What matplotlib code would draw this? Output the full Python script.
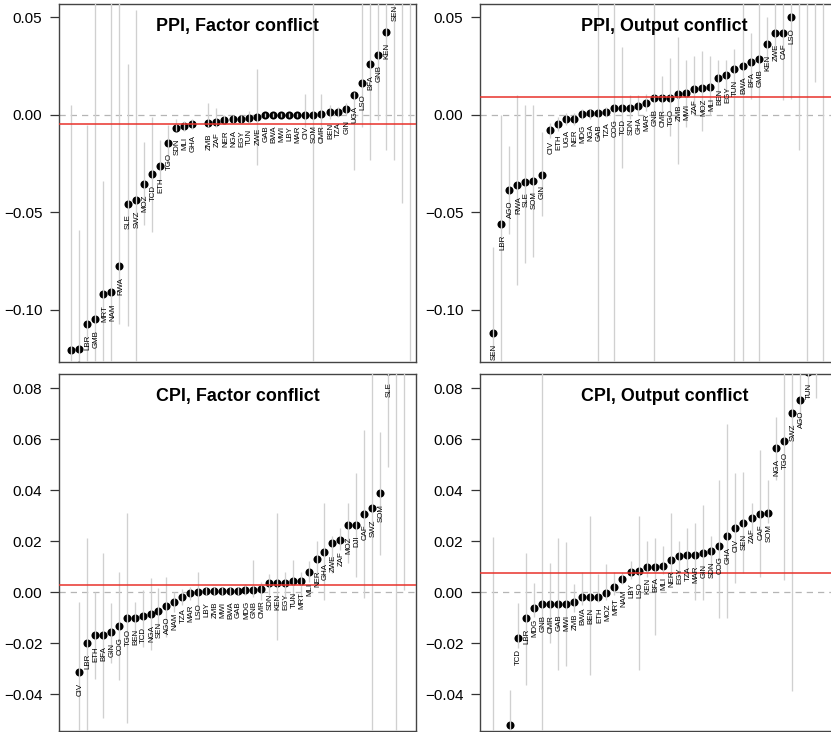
import numpy as np
import matplotlib
matplotlib.use('Agg')
import matplotlib.pyplot as plt
from matplotlib.transforms import offset_copy

plt.rcParams['font.family'] = ['Liberation Sans', 'DejaVu Sans']
nan = np.nan

# ---------------- PPI, Factor conflict ----------------
ppi_f_names = ['AGO', 'COG', 'LBR', 'GMB', 'MRT', 'NAM', 'RWA', 'SLE', 'SWZ', 'MOZ',
               'TCD', 'ETH', 'TGO', 'SDN', 'MLI', 'GHA', 'MDG', 'ZMB', 'ZAF', 'NER',
               'NGA', 'EGY', 'TUN', 'ZWE', 'GAB', 'BWA', 'MWI', 'LBY', 'MAR', 'CIV',
               'SOM', 'CMR', 'BEN', 'TZA', 'GIN', 'UGA', 'LSO', 'BFA', 'GNB', 'KEN',
               'SEN', 'DJI', 'CAF']
ppi_f_val = [-0.1205, -0.1198, -0.1072, -0.1048, -0.0918, -0.0910, -0.0774, -0.0455, -0.0436, -0.0354,
             -0.0303, -0.0263, -0.0142, -0.0067, -0.0058, -0.0048, nan, -0.0039, -0.0034, -0.0024,
             -0.0021, -0.0021, -0.0017, -0.0012, 0.0, 0.0, 0.0, 0.0, 0.0, 0.0002,
             0.0002, 0.0005, 0.0014, 0.0017, 0.0029, 0.0104, 0.0162, 0.0262, 0.0310, 0.0426,
             0.0620, 0.0900, 0.0900]
ppi_f_lo = [-0.20, -0.20, -0.20, -0.20, -0.20, -0.20, -0.107, -0.108, -0.20, -0.0564,
            -0.0598, -0.035, -0.0256, -0.008, -0.008, -0.007, nan, -0.006, -0.006, -0.004,
            -0.004, -0.004, -0.004, -0.0256, -0.001, -0.001, -0.001, -0.001, -0.001, -0.006,
            -0.20, -0.014, -0.002, -0.001, 0.0, -0.028, -0.006, -0.023, -0.0026, -0.018,
            -0.023, -0.045, -0.20]
ppi_f_hi = [0.005, -0.059, -0.005, 0.10, -0.034, 0.10, 0.10, 0.026, 0.054, -0.0137,
            -0.0009, -0.0128, -0.005, -0.002, -0.003, -0.002, nan, 0.006, 0.0036, 0.0,
            0.0, 0.0, 0.002, 0.0236, 0.001, 0.001, 0.001, 0.001, 0.001, 0.011,
            0.10, 0.011, 0.005, 0.004, 0.006, 0.012, 0.10, 0.10, 0.10, 0.10,
            0.15, 0.15, 0.15]
ppi_f_avg = -0.0046

# ---------------- PPI, Output conflict ----------------
ppi_o_names = ['SEN', 'LBR', 'AGO', 'RWA', 'SLE', 'SOM', 'GIN', 'CIV', 'ETH', 'UGA',
               'NER', 'MDG', 'NGA', 'GAB', 'TZA', 'COG', 'TCD', 'SDN', 'GHA', 'MAR',
               'GNB', 'CMR', 'TGO', 'ZMB', 'MWI', 'ZAF', 'MOZ', 'MLI', 'BEN', 'EGY',
               'TUN', 'BWA', 'BFA', 'GMB', 'KEN', 'ZWE', 'CAF', 'LSO', 'MRT', 'NAM',
               'SWZ', 'LBY', 'DJI']
ppi_o_val = [-0.1120, -0.0559, -0.0385, -0.0359, -0.0342, -0.0337, -0.0306, -0.0077, -0.0046, -0.0021,
             -0.0021, 0.0005, 0.0009, 0.0009, 0.0017, 0.0034, 0.0034, 0.0038, 0.0046, 0.0063,
             0.0085, 0.0085, 0.0085, 0.0108, 0.0111, 0.0135, 0.0140, 0.0142, 0.0190, 0.0204,
             0.0234, 0.0253, 0.0273, 0.0289, 0.0362, 0.0422, 0.0422, 0.0501, 0.0900, 0.0900,
             0.0900, 0.0900, nan]
ppi_o_lo = [-0.20, -0.20, -0.061, -0.087, -0.076, -0.0727, -0.052, -0.012, -0.008, -0.005,
            -0.005, -0.002, -0.002, -0.20, -0.001, -0.20, -0.027, -0.002, 0.0, 0.002,
            -0.20, 0.001, -0.011, -0.025, -0.006, 0.0, -0.008, 0.0, 0.010, 0.012,
            -0.20, -0.20, 0.008, -0.20, 0.023, 0.028, 0.0077, 0.008, -0.018, -0.20,
            0.017, -0.20, nan]
ppi_o_hi = [-0.0675, 0.000, -0.016, 0.010, 0.005, 0.005, -0.009, -0.004, -0.001, 0.001,
            0.001, 0.003, 0.003, 0.10, 0.004, 0.10, 0.035, 0.010, 0.010, 0.011,
            0.10, 0.020, 0.029, 0.040, 0.028, 0.030, 0.033, 0.030, 0.028, 0.028,
            0.034, 0.10, 0.042, 0.10, 0.050, 0.10, 0.10, 0.10, 0.15, 0.15,
            0.15, 0.15, nan]
ppi_o_avg = 0.0092

# ---------------- CPI, Factor conflict ----------------
cpi_f_names = ['UGA', 'CIV', 'LBR', 'ETH', 'BFA', 'GIN', 'COG', 'TGO', 'BEN', 'TCD',
               'NGA', 'SEN', 'AGO', 'NAM', 'TZA', 'MAR', 'LSO', 'LBY', 'ZMB', 'MWI',
               'BWA', 'GAB', 'MDG', 'GNB', 'CMR', 'SDN', 'KEN', 'EGY', 'TUN', 'MRT',
               'MLI', 'NER', 'GHA', 'ZWE', 'ZAF', 'MOZ', 'DJI', 'CAF', 'SWZ', 'SOM',
               'SLE', 'RWA', 'GMB']
cpi_f_val = [nan, -0.0315, -0.0199, -0.0170, -0.0170, -0.0156, -0.0133, -0.0102, -0.0102, -0.0094,
             -0.0086, -0.0076, -0.0055, -0.0038, -0.0021, -0.0005, 0.0, 0.0004, 0.0004, 0.0004,
             0.0004, 0.0005, 0.0008, 0.0008, 0.0010, 0.0036, 0.0036, 0.0036, 0.0042, 0.0042,
             0.0077, 0.0128, 0.0158, 0.0191, 0.0204, 0.0261, 0.0264, 0.0306, 0.0328, 0.0387,
             0.0866, 0.1000, 0.1000]
cpi_f_lo = [nan, -0.07, -0.07, -0.034, -0.0495, -0.028, -0.0345, -0.0515, -0.018, -0.0214,
            -0.0227, -0.0136, -0.0175, -0.008, -0.005, -0.003, -0.0084, -0.001, -0.001, -0.001,
            -0.001, -0.001, -0.001, -0.0018, -0.003, -0.001, -0.0188, -0.002, -0.0044, -0.002,
            0.004, 0.006, -0.003, 0.0075, 0.0165, 0.0114, 0.006, -0.0024, -0.10, 0.0145,
            0.049, -0.10, 0.0008]
cpi_f_hi = [nan, -0.0038, 0.021, 0.0001, 0.0154, -0.0044, 0.0077, 0.031, -0.004, 0.0008,
            0.0056, 0.0017, 0.006, 0.000, 0.001, 0.002, 0.0077, 0.002, 0.002, 0.002,
            0.002, 0.002, 0.003, 0.0125, 0.004, 0.007, 0.031, 0.008, 0.0125, 0.008,
            0.012, 0.020, 0.035, 0.022, 0.025, 0.035, 0.0468, 0.0635, 0.12, 0.0629,
            0.12, 0.12, 0.12]
cpi_f_avg = 0.0027

# ---------------- CPI, Output conflict ----------------
cpi_o_names = ['SLE', 'RWA', 'GMB', 'TCD', 'LBR', 'MDG', 'GNB', 'CMR', 'GAB', 'MWI',
               'ZMB', 'BWA', 'BEN', 'ETH', 'MOZ', 'MRT', 'NAM', 'LBY', 'LSO', 'KEN',
               'BFA', 'MLI', 'NER', 'EGY', 'TZA', 'MAR', 'GIN', 'SDN', 'COG', 'GHA',
               'CIV', 'SEN', 'ZAF', 'CAF', 'SOM', 'NGA', 'TGO', 'SWZ', 'AGO', 'TUN',
               'UGA', 'DJI', 'ZWE']
cpi_o_val = [-0.0700, nan, -0.0522, -0.0182, -0.0103, -0.0062, -0.0047, -0.0047, -0.0047, -0.0047,
             -0.0040, -0.0018, -0.0018, -0.0018, -0.0003, 0.0018, 0.0050, 0.0077, 0.0081, 0.0097,
             0.0099, 0.0103, 0.0125, 0.0141, 0.0144, 0.0145, 0.0154, 0.0161, 0.0182, 0.0221,
             0.0250, 0.0269, 0.0291, 0.0306, 0.0309, 0.0563, 0.0593, 0.0703, 0.0753, 0.0863,
             0.1000, nan, nan]
cpi_o_lo = [-0.10, nan, -0.065, -0.022, -0.0365, -0.0098, -0.10, -0.020, -0.0306, -0.029,
            -0.008, -0.005, -0.0325, -0.004, -0.003, -0.001, 0.003, 0.005, -0.0306, 0.006,
            -0.017, 0.007, 0.006, 0.006, 0.006, -0.003, -0.003, 0.006, -0.010, -0.010,
            0.0035, 0.0075, 0.020, 0.006, 0.027, 0.044, 0.0047, -0.039, 0.0655, 0.076,
            0.076, nan, nan]
cpi_o_hi = [0.0217, nan, -0.0384, -0.0044, 0.0154, 0.0035, 0.10, 0.0113, 0.021, 0.0197,
            0.003, 0.008, 0.030, 0.007, 0.011, 0.008, 0.008, 0.012, 0.030, 0.020,
            0.021, 0.018, 0.031, 0.020, 0.025, 0.027, 0.034, 0.022, 0.044, 0.066,
            0.0467, 0.047, 0.035, 0.0557, 0.044, 0.0687, 0.10, 0.10, 0.10, 0.10,
            0.12, nan, nan]
cpi_o_avg = 0.0075

W, H = 831, 732
fig = plt.figure(figsize=(W / 100, H / 100), dpi=100)


def add_ax(x0, top, x1, bot):
    return fig.add_axes([x0 / W, 1 - bot / H, (x1 - x0) / W, (bot - top) / H])


panels = [
    dict(box=(59, 4, 416, 362), xlim=(-1.48, 42.7), ylim=(-0.1267, 0.0569),
         ticks=[-0.10, -0.05, 0.00, 0.05], title='PPI, Factor conflict', tdx=0,
         names=ppi_f_names, val=ppi_f_val, lo=ppi_f_lo, hi=ppi_f_hi, avg=ppi_f_avg),
    dict(box=(480, 4, 837, 362), xlim=(-1.65, 42.75), ylim=(-0.1267, 0.0569),
         ticks=[-0.10, -0.05, 0.00, 0.05], title='PPI, Output conflict', tdx=6,
         names=ppi_o_names, val=ppi_o_val, lo=ppi_o_lo, hi=ppi_o_hi, avg=ppi_o_avg),
    dict(box=(59, 374, 416, 731), xlim=(-1.57, 43.57), ylim=(-0.0545, 0.0855),
         ticks=[-0.04, -0.02, 0.00, 0.02, 0.04, 0.06, 0.08], title='CPI, Factor conflict', tdx=0,
         names=cpi_f_names, val=cpi_f_val, lo=cpi_f_lo, hi=cpi_f_hi, avg=cpi_f_avg),
    dict(box=(480, 374, 837, 731), xlim=(-1.67, 42.6), ylim=(-0.0545, 0.0855),
         ticks=[-0.04, -0.02, 0.00, 0.02, 0.04, 0.06, 0.08], title='CPI, Output conflict', tdx=6,
         names=cpi_o_names, val=cpi_o_val, lo=cpi_o_lo, hi=cpi_o_hi, avg=cpi_o_avg),
]

for p in panels:
    ax = add_ax(*p['box'])
    n = len(p['names'])
    x = np.arange(n)
    val = np.array(p['val'], dtype=float)
    lo = np.array(p['lo'], dtype=float)
    hi = np.array(p['hi'], dtype=float)
    y0, y1 = p['ylim']
    ax.set_xlim(*p['xlim'])
    ax.set_ylim(y0, y1)
    ax.axhline(0, color='#b5b5b5', lw=0.9, ls=(0, (5, 4)), zorder=1)
    ax.axhline(p['avg'], color='#e8322b', lw=1.1, zorder=4)
    ax.plot(x, val, 'o', color='black', ms=5.8, mew=0, zorder=2, clip_on=True)
    ok = ~np.isnan(lo)
    ax.vlines(x[ok], lo[ok], hi[ok], color='#d0d0d0', lw=0.95, zorder=3)
    trans = offset_copy(ax.transData, fig=fig, x=0.8, y=-7.8, units='points')
    span = y1 - y0
    for xi, v, nm in zip(x, val, p['names']):
        # labels that fall wholly outside the frame are not visible in the original
        if np.isnan(v) or v > y1 + 0.03 * span or v < y0 + 0.0365 * span:
            continue
        ax.text(xi, v, nm, transform=trans, rotation=90, ha='center', va='top',
                fontsize=5.7, color='black', clip_on=True, zorder=5)
    bw = p['box'][2] - p['box'][0]
    ax.text(0.5 + p['tdx'] / bw, 1 - 27 / 358, p['title'], transform=ax.transAxes,
            ha='center', va='baseline', fontsize=12.9, fontweight='bold', zorder=6)
    ax.set_xticks([])
    ax.set_yticks(p['ticks'])
    ax.set_yticklabels([('%.2f' % t).replace('-', '\u2212') for t in p['ticks']])
    ax.tick_params(axis='y', direction='out', length=6.5, width=0.9, labelsize=11,
                   pad=5.5, color='#333333')
    for s in ax.spines.values():
        s.set_color('#444444')
        s.set_linewidth(1.0)

fig.savefig('out.png', dpi=100)
